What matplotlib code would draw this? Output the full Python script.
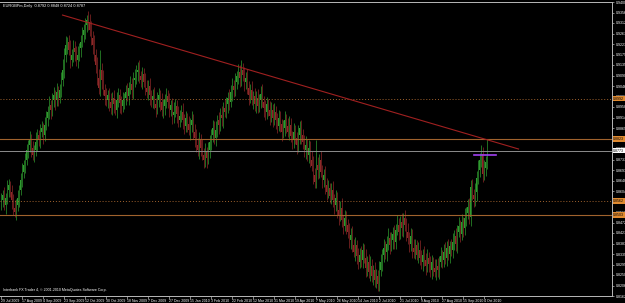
"""
EURGBPm daily candles (MetaTrader style) with a falling trendline
and a few horizontal support / resistance levels.
"""

import numpy as np
import matplotlib.pyplot as plt
from matplotlib.transforms import blended_transform_factory

# ── Data: daily bars, prices in pips (x 1e-4) ─────────────────────────────
first_open = 8550
closes = [
    8566, 8587, 8545, 8575, 8609, 8630, 8600, 8566, 8533, 8516,
    8545, 8575, 8609, 8651, 8685, 8714, 8735, 8777, 8798, 8819,
    8785, 8756, 8777, 8811, 8840, 8819, 8853, 8869, 8840, 8882,
    8911, 8937, 8966, 8945, 8987, 9008, 8987, 9021, 8996, 9030,
    9072, 9114, 9177, 9219, 9232, 9198, 9156, 9177, 9206, 9189,
    9156, 9177, 9206, 9232, 9261, 9282, 9303, 9324, 9316, 9282,
    9248, 9219, 9177, 9135, 9080, 9038, 9114, 9072, 9030, 9004,
    8987, 9008, 8979, 8953, 8996, 8970, 8945, 8987, 9008, 8974,
    8962, 8987, 8996, 9021, 9004, 9038, 9055, 9030, 9072, 9080,
    9105, 9114, 9089, 9072, 9097, 9063, 9038, 9021, 9046, 9008,
    8987, 9004, 8970, 8953, 8987, 9008, 8979, 8945, 8962, 8987,
    9004, 8979, 8945, 8966, 8924, 8937, 8962, 8928, 8903, 8920,
    8937, 8903, 8878, 8911, 8886, 8861, 8882, 8903, 8853, 8827,
    8798, 8777, 8819, 8785, 8756, 8735, 8769, 8743, 8777, 8811,
    8840, 8869, 8827, 8861, 8903, 8882, 8924, 8911, 8953, 8937,
    8970, 8996, 8979, 9021, 9046, 9030, 9063, 9089, 9105, 9080,
    9114, 9093, 9063, 9080, 9038, 9008, 9030, 8987, 9004, 8970,
    8996, 8962, 8987, 9013, 8979, 8953, 8937, 8970, 8945, 8920,
    8945, 8911, 8937, 8903, 8878, 8911, 8886, 8853, 8869, 8903,
    8878, 8853, 8882, 8836, 8819, 8853, 8827, 8798, 8840, 8869,
    8840, 8811, 8777, 8798, 8756, 8785, 8735, 8710, 8672, 8643,
    8714, 8693, 8735, 8685, 8651, 8672, 8630, 8600, 8617, 8583,
    8609, 8566, 8545, 8575, 8524, 8503, 8533, 8482, 8457, 8491,
    8461, 8432, 8398, 8419, 8377, 8348, 8377, 8331, 8305, 8335,
    8314, 8356, 8322, 8280, 8305, 8263, 8289, 8247, 8272, 8230,
    8247, 8213, 8272, 8305, 8335, 8364, 8348, 8381, 8407, 8377,
    8398, 8423, 8390, 8440, 8461, 8432, 8474, 8449, 8491, 8461,
    8432, 8407, 8381, 8415, 8364, 8348, 8377, 8335, 8356, 8322,
    8305, 8335, 8314, 8289, 8322, 8297, 8272, 8305, 8280, 8263,
    8289, 8272, 8305, 8331, 8314, 8348, 8322, 8364, 8339, 8373,
    8356, 8390, 8415, 8381, 8432, 8457, 8423, 8474, 8449, 8491,
    8512, 8537, 8495, 8621, 8587, 8570, 8600, 8659, 8693, 8735,
    8760, 8676, 8701, 8727, 8773,
]
upper_wicks = [
    28, 22, 35, 20, 40, 25, 18, 30, 24, 32,
    26, 34, 20, 28, 38, 22, 30, 25, 19, 36,
    24, 30, 22, 40, 26, 20, 32, 28, 22, 34,
    30, 25, 38, 20, 28, 34, 22, 40, 26, 24,
    32, 45, 28, 36, 22, 30, 40, 24, 34, 28,
    26, 38, 22, 30, 35, 24, 28, 21, 40, 32,
    36, 28, 40, 24, 32, 38, 84, 30, 40, 26,
    34, 22, 30, 38, 26, 32, 20, 36, 28, 24,
    30, 36, 22, 28, 40, 26, 34, 24, 32, 38,
    28, 34, 40, 22, 30, 26, 38, 32, 24, 36,
    22, 30, 38, 26, 34, 28, 20, 36, 30, 24,
    32, 26, 38, 22, 30, 40, 28, 24, 34, 26,
    30, 38, 24, 32, 20, 36, 28, 40, 26, 34,
    38, 28, 34, 24, 40, 30, 36, 22, 32, 28,
    26, 34, 30, 38, 22, 32, 28, 36, 24, 40,
    30, 24, 36, 28, 34, 26, 38, 22, 32, 30,
    40, 28, 34, 24, 38, 30, 26, 36, 22, 32,
    28, 36, 24, 32, 40, 26, 34, 30, 22, 38,
    32, 26, 38, 24, 30, 36, 28, 22, 34, 40,
    26, 32, 38, 28, 22, 36, 30, 24, 40, 28,
    34, 26, 30, 38, 24, 32, 28, 36, 40, 30,
    105, 32, 26, 38, 30, 24, 36, 28, 34, 22,
    30, 38, 26, 32, 24, 36, 28, 40, 22, 34,
    28, 24, 36, 30, 38, 26, 32, 22, 34, 28,
    36, 30, 24, 38, 26, 32, 40, 28, 22, 34,
    30, 26, 38, 32, 24, 36, 28, 34, 40, 26,
    32, 28, 36, 24, 40, 30, 26, 38, 22, 34,
    28, 38, 24, 32, 30, 36, 26, 22, 34, 40,
    32, 24, 36, 28, 38, 26, 34, 30, 22, 36,
    28, 34, 26, 38, 24, 32, 40, 28, 36, 22,
    30, 36, 24, 32, 28, 38, 26, 34, 22, 40,
    26, 32, 38, 28, 34, 24, 36, 30, 40, 28,
    38, 30, 34, 26, 50,
]
lower_wicks = [
    24, 30, 20, 36, 26, 32, 22, 38, 28, 20,
    32, 24, 38, 22, 30, 26, 36, 20, 34, 28,
    36, 22, 30, 26, 38, 24, 32, 20, 40, 26,
    22, 34, 28, 38, 24, 30, 40, 26, 32, 22,
    30, 24, 36, 28, 40, 22, 34, 26, 30, 38,
    24, 32, 26, 38, 22, 30, 36, 28, 34, 24,
    28, 40, 24, 34, 30, 26, 32, 38, 22, 36,
    26, 32, 38, 24, 30, 36, 22, 34, 28, 40,
    32, 24, 36, 30, 22, 38, 26, 34, 40, 28,
    24, 36, 28, 32, 38, 22, 30, 26, 34, 40,
    28, 34, 22, 38, 26, 30, 40, 24, 32, 36,
    34, 26, 30, 24, 38, 32, 22, 36, 28, 30,
    24, 38, 32, 26, 34, 22, 40, 30, 28, 36,
    30, 26, 38, 34, 22, 32, 28, 40, 24, 36,
    36, 30, 24, 32, 28, 38, 26, 34, 40, 22,
    26, 38, 32, 22, 36, 30, 24, 28, 34, 38,
    32, 24, 36, 30, 26, 40, 34, 22, 38, 28,
    38, 30, 26, 34, 22, 36, 32, 28, 24, 40,
    24, 36, 30, 38, 28, 22, 34, 40, 26, 32,
    30, 22, 34, 26, 40, 32, 24, 38, 28, 36,
    36, 32, 28, 40, 24, 34, 30, 22, 38, 26,
    26, 40, 34, 22, 36, 28, 38, 32, 24, 30,
    32, 28, 38, 24, 34, 40, 26, 30, 36, 22,
    40, 26, 32, 36, 28, 22, 38, 34, 30, 24,
    28, 34, 22, 38, 32, 26, 36, 24, 40, 30,
    34, 29, 30, 26, 36, 28, 32, 40, 24, 38,
    26, 38, 32, 28, 22, 36, 30, 34, 40, 24,
    38, 24, 34, 30, 40, 26, 32, 22, 36, 28,
    30, 36, 26, 38, 24, 32, 28, 40, 34, 22,
    34, 28, 38, 22, 36, 30, 24, 32, 26, 40,
    24, 32, 36, 28, 40, 22, 34, 26, 38, 30,
    36, 26, 30, 40, 22, 34, 28, 38, 24, 32,
    28, 34, 26, 32, 30,
]

date_labels = [
    "29 Jul 2009", "17 Aug 2009", "4 Sep 2009", "23 Sep 2009", "12 Oct 2009",
    "30 Oct 2009", "18 Nov 2009", "7 Dec 2009", "27 Dec 2009", "15 Jan 2010",
    "3 Feb 2010", "22 Feb 2010", "12 Mar 2010", "31 Mar 2010", "19 Apr 2010",
    "7 May 2010", "26 May 2010", "14 Jun 2010", "2 Jul 2010", "21 Jul 2010",
    "9 Aug 2010", "27 Aug 2010", "15 Sep 2010", "4 Oct 2010",
]
DATE_STEP = 14            # bars between two date labels

# ── Drawn objects ─────────────────────────────────────────────────────────
dotted_levels = [0.8992, 0.8562]
solid_levels = [0.8823, 0.8503]
bid_level = 0.8773
purple_level = 0.8756
purple_bars = [315, 330]
trend_bars = [41, 345]
trend_prices = [0.9345, 0.8781]

PRICE_TOP, PRICE_BOTTOM = 0.9400, 0.8162
N_PRICE_LABELS = 29
TITLE = "EURGBPm,Daily  0.8792 0.8848 0.8724 0.8787"
COPYRIGHT = "Interbank FX Trader 4, \u00a9 2001-2010 MetaQuotes Software Corp."

BULL = "#2f9a2f"
BEAR = "#8e2828"
LEVEL = "#a0622d"
FRAME = "#b8b8b8"

plt.rcParams["font.family"] = ["Liberation Sans", "DejaVu Sans"]

# ── OHLC arrays ───────────────────────────────────────────────────────────
close = np.array(closes) / 1e4
open_ = np.r_[first_open, closes[:-1]] / 1e4
high = np.maximum(open_, close) + np.array(upper_wicks) / 1e4
low = np.minimum(open_, close) - np.array(lower_wicks) / 1e4
x = np.arange(len(close))
colors = np.where(close >= open_, BULL, BEAR)

fig = plt.figure(figsize=(6.25, 3.03), dpi=100, facecolor="black")
ax = fig.add_axes([0.0, 7 / 303, 612 / 625, 294 / 303])
ax.set_facecolor("black")

ax.vlines(x, low, high, colors=colors, linewidth=0.5)
ax.bar(x, close - open_, bottom=open_, width=0.6, color=colors, linewidth=0)

# horizontal levels
for lvl in dotted_levels:
    ax.axhline(lvl, color=LEVEL, linestyle=(0, (1, 2)), linewidth=0.7)
for lvl in solid_levels:
    ax.axhline(lvl, color=LEVEL, linewidth=0.8)
ax.axhline(bid_level, color="#8c8c8c", linewidth=0.7)
ax.plot(purple_bars, [purple_level, purple_level], color="#a040f0", linewidth=1.2)
ax.plot(trend_bars, trend_prices, color="#a02020", linewidth=0.8)

ax.set_xlim(-0.667, 407.3)
ax.set_ylim(PRICE_BOTTOM, PRICE_TOP)

# price axis on the right, MT4 style: evenly split, not rounded
ax.yaxis.tick_right()
yt = np.linspace(PRICE_TOP, PRICE_BOTTOM, N_PRICE_LABELS)
ax.set_yticks(yt)
ax.set_yticklabels([f"{v:.4f}" for v in yt])
ax.tick_params(axis="y", colors="white", labelsize=2.6, length=1.5, width=0.5,
               pad=1, color=FRAME)

ax.set_xticks(x[::DATE_STEP][:len(date_labels)])
ax.set_xticklabels(date_labels, ha="left")
ax.tick_params(axis="x", colors="white", labelsize=2.5, length=2, width=0.5,
               pad=0.3, color=FRAME)

for side in ["top", "right", "bottom"]:
    ax.spines[side].set_color(FRAME)
    ax.spines[side].set_linewidth(0.7)
ax.spines["left"].set_visible(False)

# coloured price tags on the axis
tr = blended_transform_factory(ax.transAxes, ax.transData)
for lvl in dotted_levels + solid_levels:
    ax.text(1.002, lvl, f"{lvl:.4f}", transform=tr, fontsize=2.6, color="black",
            va="center", ha="left", clip_on=False,
            bbox=dict(boxstyle="square,pad=0.15", fc="#e08a30", ec="none"))
ax.text(1.002, bid_level, f"{bid_level:.4f}", transform=tr, fontsize=2.6,
        color="black", va="center", ha="left", clip_on=False,
        bbox=dict(boxstyle="square,pad=0.15", fc="white", ec="none"))

ax.text(0.005, 0.992, TITLE, transform=ax.transAxes, fontsize=2.8,
        color="white", va="top", ha="left")
ax.text(0.005, 0.012, COPYRIGHT, transform=ax.transAxes, fontsize=2.6,
        color="white", va="bottom", ha="left")

fig.savefig("out.png", dpi=100, facecolor="black")
